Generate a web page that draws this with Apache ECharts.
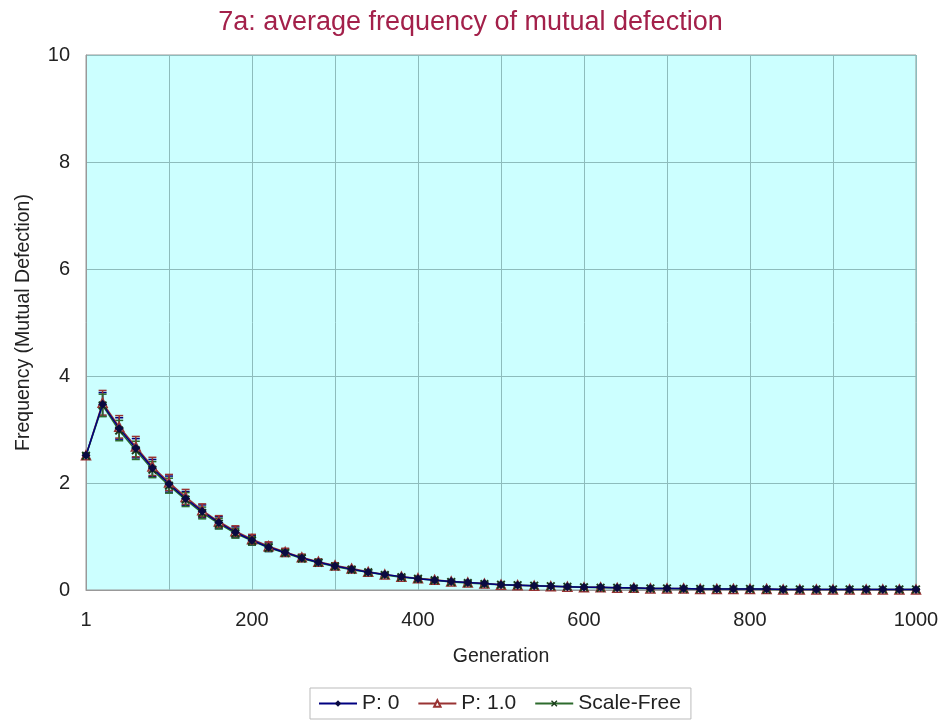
<!DOCTYPE html>
<html>
<head>
<meta charset="utf-8">
<script src="https://cdn.jsdelivr.net/npm/echarts@6/dist/echarts.min.js"></script>
<style>html,body{margin:0;padding:0;background:#fff;}#c{width:941px;height:722px;}</style>
</head>
<body>
<div id="c"></div>
<script>
var generations = ['1','20','40','60','80','100','120','140','160','180','200','220','240','260','280','300','320','340','360','380','400','420','440','460','480','500','520','540','560','580','600','620','640','660','680','700','720','740','760','780','800','820','840','860','880','900','920','940','960','980','1000'];

var p0 = [2.52,3.47,3.02,2.65,2.28,1.98,1.71,1.47,1.26,1.08,0.93,0.80,0.70,0.60,0.52,0.45,0.39,0.33,0.29,0.25,0.21,0.18,0.16,0.14,0.12,0.10,0.09,0.08,0.07,0.06,0.05,0.05,0.04,0.04,0.03,0.03,0.03,0.02,0.02,0.02,0.02,0.02,0.01,0.01,0.01,0.01,0.01,0.01,0.01,0.01,0.01];
var p1 = [2.52,3.50,3.05,2.68,2.31,2.01,1.74,1.49,1.28,1.10,0.95,0.82,0.71,0.61,0.53,0.46,0.40,0.34,0.29,0.25,0.22,0.19,0.16,0.14,0.12,0.10,0.09,0.08,0.07,0.06,0.05,0.05,0.04,0.04,0.03,0.03,0.03,0.02,0.02,0.02,0.02,0.02,0.01,0.01,0.01,0.01,0.01,0.01,0.01,0.01,0.01];
var sf = [2.51,3.45,2.98,2.61,2.25,1.95,1.69,1.44,1.24,1.06,0.92,0.79,0.69,0.59,0.51,0.44,0.38,0.33,0.28,0.24,0.21,0.18,0.15,0.13,0.11,0.10,0.09,0.08,0.07,0.06,0.05,0.04,0.04,0.03,0.03,0.03,0.02,0.02,0.02,0.02,0.02,0.01,0.01,0.01,0.01,0.01,0.01,0.01,0.01,0.01,0.01];

var errP0 = [0.04,0.22,0.20,0.18,0.16,0.15,0.13,0.12,0.11,0.10,0.09,0.08,0.07,0.06,0.05,0.05,0.04,0.04,0.03,0.03,0.03,0.02,0.02,0.02,0.02,0.02,0.01,0.01,0.01,0.01,0.01,0.01,0.01,0.01,0.01,0.01,0.01,0.01,0.01,0.01,0.01,0.01,0.01,0.01,0.01,0.01,0.01,0.01,0.01,0.01,0.01];
var errP1 = [0.04,0.23,0.21,0.19,0.17,0.15,0.14,0.12,0.11,0.10,0.09,0.08,0.07,0.06,0.05,0.05,0.04,0.04,0.03,0.03,0.03,0.02,0.02,0.02,0.02,0.02,0.01,0.01,0.01,0.01,0.01,0.01,0.01,0.01,0.01,0.01,0.01,0.01,0.01,0.01,0.01,0.01,0.01,0.01,0.01,0.01,0.01,0.01,0.01,0.01,0.01];
var errSF = [0.04,0.21,0.19,0.17,0.15,0.14,0.13,0.11,0.10,0.09,0.08,0.07,0.06,0.06,0.05,0.04,0.04,0.03,0.03,0.03,0.02,0.02,0.02,0.02,0.02,0.01,0.01,0.01,0.01,0.01,0.01,0.01,0.01,0.01,0.01,0.01,0.01,0.01,0.01,0.01,0.01,0.01,0.01,0.01,0.01,0.01,0.01,0.01,0.01,0.01,0.01];

var seriesNames = ['P: 0','P: 1.0','Scale-Free'];
var colors = ['#000080','#993333','#2d6b2d'];
var xSymbol = 'path://M0,1.5L1.5,0L5,3.5L8.5,0L10,1.5L6.5,5L10,8.5L8.5,10L5,6.5L1.5,10L0,8.5L3.5,5Z';

function errData(vals, errs){
  return vals.map(function(v,i){ return [i, v - errs[i], v + errs[i]]; });
}
function errSeries(vals, errs, color){
  return {
    type:'custom',
    silent:true,
    z:1,
    data: errData(vals, errs),
    renderItem: function(params, api){
      var x = api.value(0);
      var lo = api.coord([x, api.value(1)]);
      var hi = api.coord([x, api.value(2)]);
      var w = 4;
      var st = {stroke: color, lineWidth: 1.5};
      return {type:'group', children:[
        {type:'line', shape:{x1:lo[0],y1:lo[1],x2:hi[0],y2:hi[1]}, style:st},
        {type:'line', shape:{x1:lo[0]-w,y1:lo[1],x2:lo[0]+w,y2:lo[1]}, style:st},
        {type:'line', shape:{x1:hi[0]-w,y1:hi[1],x2:hi[0]+w,y2:hi[1]}, style:st}
      ]};
    }
  };
}

var chart = echarts.init(document.getElementById('c'), null, {renderer:'canvas'});
var font = 'Liberation Sans, Arial, sans-serif';
chart.setOption({
  animation:false,
  textStyle:{fontFamily:font},
  title:{
    text:'7a: average frequency of mutual defection',
    left:'center', top:4,
    textStyle:{color:'#a3204a', fontSize:27, fontWeight:'normal', fontFamily:font}
  },
  legend:{
    bottom:3, left:310,
    data:seriesNames,
    itemWidth:38, itemHeight:8, itemGap:18,
    borderColor:'#bbbbbb', borderWidth:1, padding:[5,10,5,8],
    textStyle:{fontSize:21, color:'#222', fontFamily:font}
  },
  grid:{left:86, right:25, top:55, bottom:132, containLabel:false, outerBoundsMode:'none',
        show:true, backgroundColor:'#ccffff', borderColor:'#999999', borderWidth:1},
  xAxis:{
    type:'category', data:generations, boundaryGap:false,
    name:'Generation', nameLocation:'middle', nameGap:57,
    nameTextStyle:{fontSize:19.5, color:'#222'},
    axisLine:{show:true, lineStyle:{color:'#999'}},
    axisTick:{show:false},
    axisLabel:{interval:9, fontSize:20, color:'#222', margin:20},
    splitLine:{show:true, interval:4, lineStyle:{color:'#8dbcbc', width:1}}
  },
  yAxis:{
    type:'value', min:0, max:10, interval:2,
    name:'Frequency (Mutual Defection)', nameLocation:'middle', nameGap:52,
    nameTextStyle:{fontSize:19.5, color:'#222'},
    axisLine:{show:true, lineStyle:{color:'#999'}},
    axisTick:{show:false},
    axisLabel:{fontSize:20, color:'#222', margin:16},
    splitLine:{show:true, lineStyle:{color:'#8dbcbc', width:1}}
  },
  series:[
    errSeries(p0, errP0, colors[0]),
    errSeries(p1, errP1, colors[1]),
    errSeries(sf, errSF, colors[2]),
    {name:seriesNames[1], type:'line', data:p1, z:3, symbol:'triangle', symbolSize:9,
     lineStyle:{color:colors[1], width:1.5}, itemStyle:{color:'#ffffff', borderColor:colors[1], borderWidth:1.5}},
    {name:seriesNames[2], type:'line', data:sf, z:3, symbol:xSymbol, symbolSize:9,
     lineStyle:{color:colors[2], width:1.5}, itemStyle:{color:'#1a3a1a'}},
    {name:seriesNames[0], type:'line', data:p0, z:3, symbol:'diamond', symbolSize:9,
     lineStyle:{color:colors[0], width:1.5}, itemStyle:{color:'#0a0a40'}}
  ]
});
</script>
</body>
</html>
